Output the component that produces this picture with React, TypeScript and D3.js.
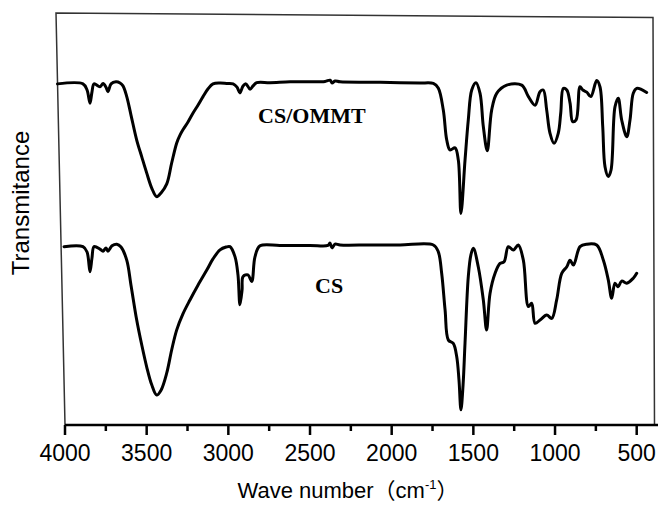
import React from "react";
import * as d3 from "d3";

// Wavenumber (cm-1) and transmittance (arbitrary units, offset)
const csOmmtWn = [4046, 3890, 3865, 3847, 3835, 3822, 3786, 3767, 3749, 3737, 3718, 3688, 3663, 3645, 3622, 3596, 3561, 3530, 3500, 3469, 3439, 3412, 3377, 3347, 3316, 3296, 3278, 3247, 3216, 3186, 3155, 3124, 3094, 3051, 3010, 2971, 2947, 2929, 2910, 2892, 2867, 2849, 2826, 2745, 2622, 2500, 2408, 2377, 2365, 2347, 2316, 2133, 1949, 1827, 1745, 1715, 1684, 1663, 1643, 1612, 1592, 1576, 1551, 1531, 1510, 1484, 1459, 1439, 1415, 1388, 1357, 1296, 1204, 1163, 1122, 1092, 1072, 1051, 1031, 1006, 980, 965, 949, 928, 908, 892, 871, 847, 830, 806, 781, 745, 725, 708, 694, 674, 657, 633, 613, 592, 561, 541, 521, 500, 439];
const csOmmtT = [83.2, 83.2, 81.7, 78.5, 81.2, 83.2, 82.5, 83.3, 82.4, 81.3, 83.2, 83.7, 83.4, 82.7, 80.1, 75.6, 69.5, 65.4, 61.5, 57.8, 55.7, 56.6, 58.8, 63.9, 68.8, 70.7, 72.0, 73.9, 76.1, 78.0, 80.1, 82.0, 83.2, 83.4, 83.3, 83.2, 82.4, 81.0, 82.7, 83.2, 81.9, 82.7, 83.5, 83.5, 83.7, 83.7, 83.8, 84.1, 83.4, 83.9, 83.7, 83.6, 83.5, 83.4, 83.3, 82.2, 76.8, 69.5, 67.1, 67.6, 64.6, 51.6, 64.6, 74.4, 81.7, 83.5, 80.9, 72.8, 66.9, 76.8, 80.9, 82.9, 82.9, 80.1, 78.0, 81.3, 81.7, 76.8, 71.2, 68.7, 71.2, 76.1, 82.1, 81.7, 78.5, 74.0, 74.4, 82.5, 81.7, 81.2, 80.1, 84.0, 82.5, 72.8, 63.0, 60.6, 62.2, 77.6, 79.7, 74.4, 70.3, 74.4, 80.9, 82.1, 81.1];

const csWn = [4006, 3890, 3865, 3847, 3835, 3822, 3786, 3767, 3749, 3737, 3712, 3683, 3657, 3622, 3596, 3561, 3530, 3500, 3469, 3439, 3412, 3377, 3347, 3316, 3278, 3235, 3186, 3132, 3094, 3051, 3014, 2990, 2959, 2941, 2929, 2916, 2910, 2880, 2857, 2837, 2806, 2684, 2500, 2390, 2378, 2365, 2347, 2316, 2133, 1949, 1745, 1715, 1694, 1673, 1653, 1623, 1602, 1588, 1576, 1563, 1551, 1531, 1515, 1500, 1470, 1439, 1419, 1398, 1367, 1337, 1312, 1286, 1255, 1225, 1194, 1163, 1143, 1122, 1092, 1051, 1020, 990, 959, 928, 908, 887, 847, 806, 745, 704, 674, 653, 633, 614, 592, 561, 521, 500];
const csT = [43.5, 43.5, 42.2, 37.4, 40.7, 43.5, 42.9, 42.4, 43.2, 42.4, 43.7, 44.1, 43.4, 40.2, 34.1, 25.6, 19.5, 14.2, 9.8, 7.3, 8.5, 12.7, 18.3, 23.2, 27.1, 30.5, 34.1, 37.8, 40.5, 42.7, 43.4, 43.5, 41.0, 36.6, 29.3, 32.9, 36.2, 36.6, 35.0, 41.0, 43.7, 43.8, 43.8, 43.8, 44.4, 43.2, 44.1, 43.9, 43.9, 43.9, 43.9, 42.3, 37.0, 28.0, 20.7, 19.9, 16.7, 11.0, 3.7, 9.8, 20.0, 36.2, 41.5, 43.1, 38.6, 30.5, 23.2, 32.1, 37.0, 39.4, 39.8, 43.5, 42.7, 43.9, 40.2, 28.9, 29.7, 24.8, 25.6, 26.8, 26.0, 30.5, 37.0, 38.6, 40.2, 39.0, 43.5, 44.1, 43.9, 40.2, 35.4, 30.9, 34.6, 33.7, 35.1, 34.6, 35.8, 37.0];

const majorTicks = [4000, 3500, 3000, 2500, 2000, 1500, 1000, 500];
const minorTicks = [3750, 3250, 2750, 2250, 1750, 1250, 750];

const seriesNames = ["CS/OMMT", "CS"];
const labelWn = [2818, 2469];
const labelT = [73.7, 32.3];

const xTitle = "Wave number";
const yTitle = "Transmitance";

export default function App() {
  const W = 659;
  const H = 506;
  const x = d3.scaleLinear().domain([4000, 500]).range([65, 636.7]);
  const y = d3.scaleLinear().domain([0, 100]).range([425, 15]);

  const line = d3
    .line<[number, number]>()
    .x((d) => x(d[0]))
    .y((d) => y(d[1]))
    .curve(d3.curveCatmullRom.alpha(0.5));

  const series = [
    csOmmtWn.map((w, i) => [w, csOmmtT[i]] as [number, number]),
    csWn.map((w, i) => [w, csT[i]] as [number, number]),
  ];

  const sans = "Arial, 'Liberation Sans', Helvetica, sans-serif";
  const serif = "'Times New Roman', 'Liberation Serif', serif";

  const xRight = 655;
  const yBottom = y(0);

  return (
    <svg
      width={W}
      height={H}
      style={{ position: "absolute", left: 0, top: 0, background: "#fff" }}
    >
      {/* frame (top, left, right) */}
      <path
        d={`M${x(4000)},${yBottom} L56,13 L653,17.5 L654.5,${yBottom}`}
        fill="none"
        stroke="#333"
        strokeWidth={1.5}
      />
      {/* bottom axis */}
      <line x1={x(4000)} x2={xRight + 3} y1={yBottom} y2={yBottom} stroke="#000" strokeWidth={2.5} />
      {majorTicks.map((t) => (
        <g key={"M" + t}>
          <line x1={x(t)} x2={x(t)} y1={yBottom} y2={yBottom + 10} stroke="#000" strokeWidth={2.5} />
          <text
            x={x(t)}
            y={461}
            textAnchor="middle"
            fontFamily={sans}
            fontSize={23}
            fill="#000"
          >
            {t}
          </text>
        </g>
      ))}
      {minorTicks.map((t) => (
        <line key={"m" + t} x1={x(t)} x2={x(t)} y1={yBottom} y2={yBottom + 6} stroke="#000" strokeWidth={2.5} />
      ))}

      {/* spectra */}
      {series.map((s, i) => (
        <path
          key={i}
          d={line(s) || ""}
          fill="none"
          stroke="#000"
          strokeWidth={3}
          strokeLinejoin="round"
          strokeLinecap="round"
        />
      ))}

      {/* series labels */}
      {seriesNames.map((n, i) => (
        <text
          key={n}
          x={x(labelWn[i])}
          y={y(labelT[i])}
          fontFamily={serif}
          fontWeight="bold"
          fontSize={22}
          fill="#000"
        >
          {n}
        </text>
      ))}

      {/* axis titles */}
      <text
        x={348}
        y={498}
        textAnchor="middle"
        fontFamily={sans}
        fontSize={22}
        fill="#000"
      >
        {xTitle}
        <tspan fontFamily="'Noto Sans CJK SC', sans-serif">（</tspan>
        cm
        <tspan dy={-9} fontSize={13}>-1</tspan>
        <tspan dy={9} fontFamily="'Noto Sans CJK SC', sans-serif">）</tspan>
      </text>
      <text
        transform={`translate(29,203) rotate(-90)`}
        textAnchor="middle"
        fontFamily={sans}
        fontSize={24}
        fill="#000"
      >
        {yTitle}
      </text>
    </svg>
  );
}
